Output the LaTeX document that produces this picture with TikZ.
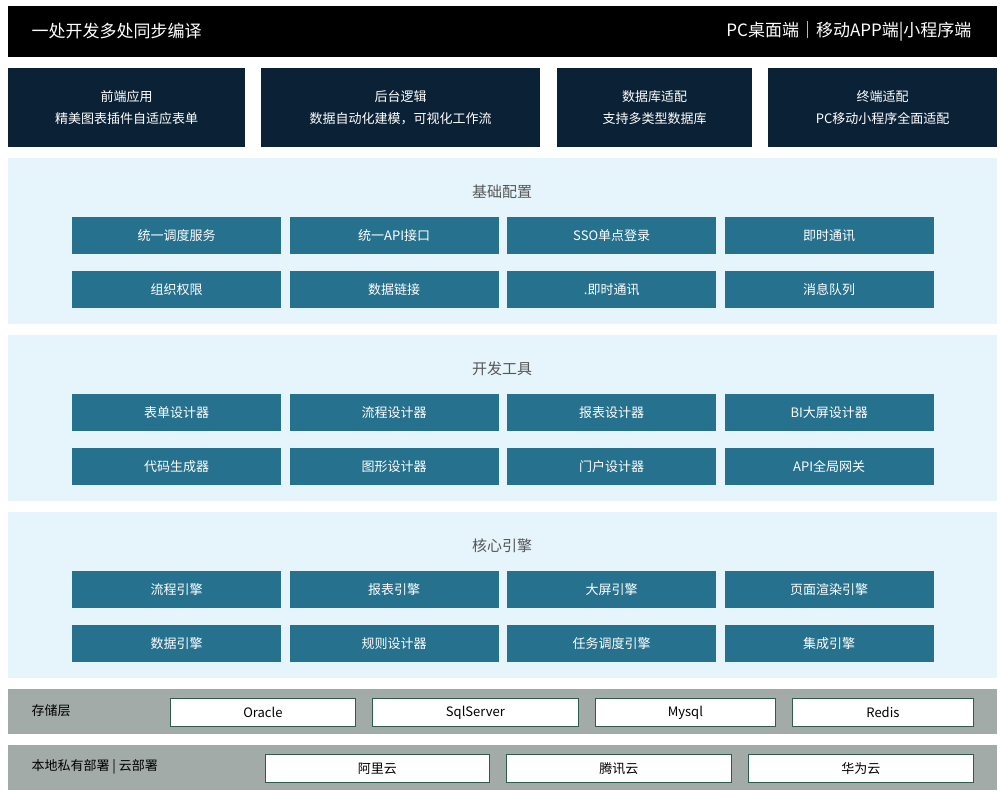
\documentclass[tikz,border=0pt]{standalone}
\usepackage{fontspec}
\setmainfont{Noto Sans CJK SC}
\begin{document}
\begin{tikzpicture}[x=1pt,y=-1pt,
  blk/.style={fill=black,draw=none},
  dark/.style={fill=c1,draw=none,text=white,align=center,font=\fontsize{13}{22}\selectfont},
  sec/.style={fill=c2,draw=none},
  cell/.style={fill=c3,draw=none,text=white,font=\fontsize{13}{15}\selectfont},
  sect/.style={text=c4,font=\fontsize{15}{18}\selectfont},
  bar/.style={fill=c5,draw=none},
  wb/.style={fill=white,draw=c6,line width=0.8pt,font=\fontsize{13}{15}\selectfont},
  lab/.style={anchor=west,font=\fontsize{13}{15}\selectfont}]
\definecolor{c1}{HTML}{0B2236}
\definecolor{c2}{HTML}{E6F5FC}
\definecolor{c3}{HTML}{26718E}
\definecolor{c4}{HTML}{555555}
\definecolor{c5}{HTML}{A3ABA8}
\definecolor{c6}{HTML}{2F5C4F}
\useasboundingbox (0,0) rectangle (1007,799);
\fill[white] (0,0) rectangle (1007,799);
\path[blk] (8,6) rectangle (997,57);
\node[text=white,anchor=west,font=\fontsize{17}{20}\selectfont] (tl) at (28,31) {一处开发多处同步编译};
\node[text=white,anchor=east,font=\fontsize{17}{20}\selectfont] (tr) at (975,31) {PC桌面端｜移动APP端|小程序端};
\foreach \a/\b/\t/\s [count=\i] in {8/245/前端应用/精美图表插件自适应表单,261/540/后台逻辑/{数据自动化建模，可视化工作流},557/752/数据库适配/支持多类型数据库,768/997/终端适配/PC移动小程序全面适配}{
  \node[dark,minimum width={\b-\a},minimum height=79,anchor=north west] (d\i) at (\a,68) {\t\\\s};
}
\foreach \y/\t/\k in {158/基础配置/1,335/开发工具/2,512/核心引擎/3}{
  \path[sec] (8,\y) rectangle (997,\y+166);
  \node[sect] (s\k) at (502,\y+34) {\t};
}
\foreach \t [count=\i] in {统一调度服务,统一API接口,SSO单点登录,即时通讯,组织权限,数据链接,.即时通讯,消息队列,表单设计器,流程设计器,报表设计器,BI大屏设计器,代码生成器,图形设计器,门户设计器,API全局网关,流程引擎,报表引擎,大屏引擎,页面渲染引擎,数据引擎,规则设计器,任务调度引擎,集成引擎}{
  \pgfmathtruncatemacro\col{mod(\i-1,4)}
  \pgfmathtruncatemacro\row{div(\i-1,4)}
  \pgfmathsetmacro\xx{72+\col*217.5}
  \pgfmathtruncatemacro\sc{div(\row,2)}
  \pgfmathtruncatemacro\rr{mod(\row,2)}
  \pgfmathsetmacro\yy{217+\sc*177+\rr*54}
  \node[cell,minimum width=209,minimum height=37,anchor=north west] (c\i) at (\xx,\yy) {\t};
}
\path[bar] (8,689) rectangle (997,734);
\node[lab] (st) at (28,711) {存储层};
\foreach \a/\b/\t [count=\i] in {170/355/Oracle,372/578/SqlServer,595/775/Mysql,792/973/Redis}{
  \node[wb,minimum width={\b-\a},minimum height=28,anchor=north west] (w\i) at (\a,698) {\t};
}
\path[bar] (8,745) rectangle (997,790);
\node[lab] (dp) at (28,767) {本地私有部署 | 云部署};
\foreach \a/\b/\t [count=\i] in {265/489/阿里云,506/731/腾讯云,748/973/华为云}{
  \node[wb,minimum width={\b-\a},minimum height=28,anchor=north west] (v\i) at (\a,754) {\t};
}
\end{tikzpicture}
\end{document}
